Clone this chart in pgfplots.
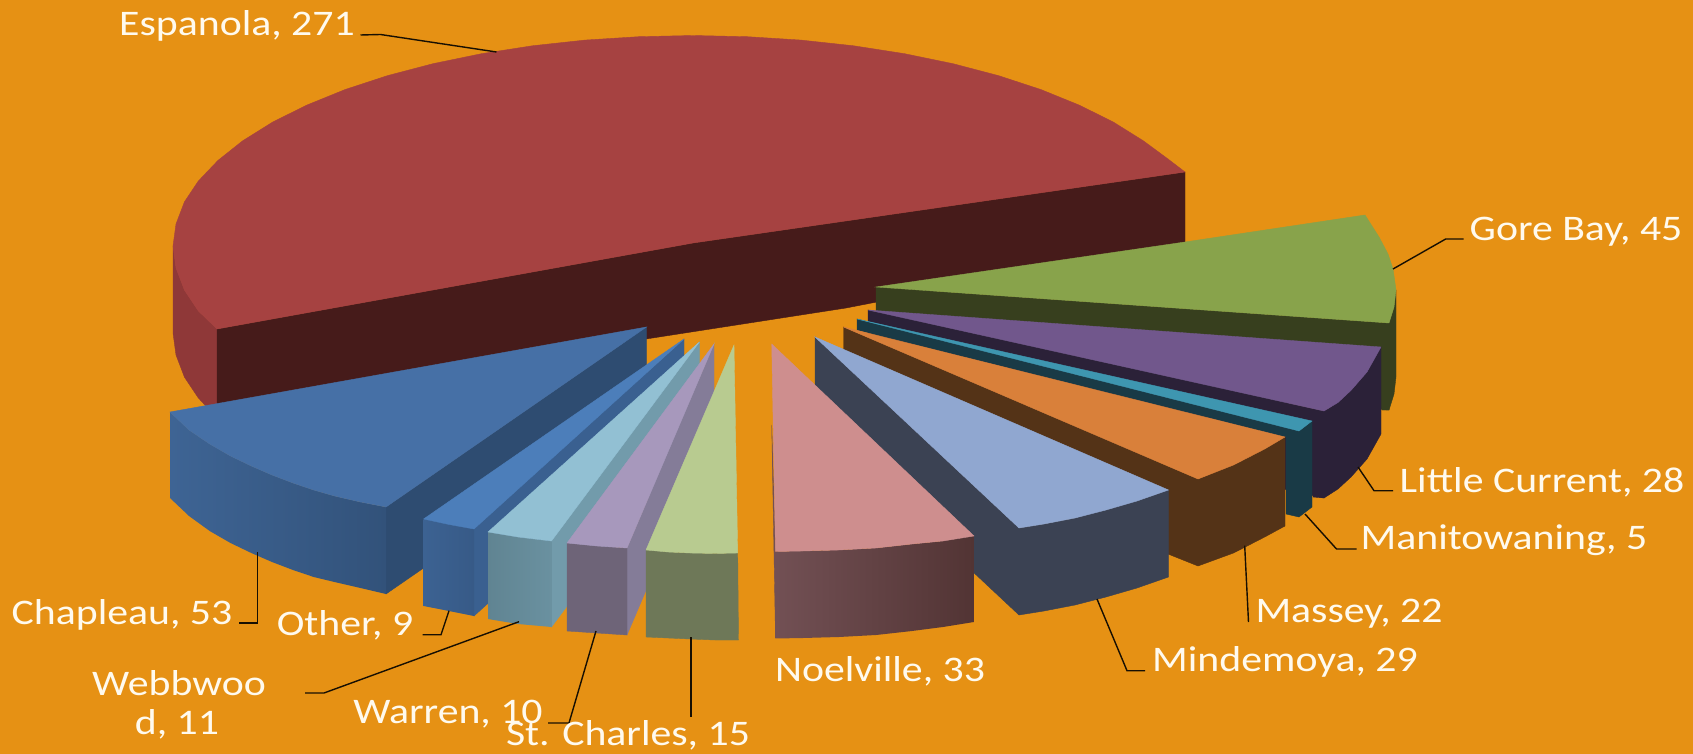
\documentclass[border=0pt]{standalone}
\usepackage{graphicx}
\usepackage{fontspec}
\setmainfont{Carlito}
\usepackage{pgfplots}
\pgfplotsset{compat=1.18}

\definecolor{bg}{RGB}{230,145,20}
\definecolor{espTop}{RGB}{166,66,65}
\definecolor{espDark}{RGB}{70,27,26}
\definecolor{espSide}{RGB}{143,56,56}
\definecolor{goreTop}{RGB}{136,163,75}
\definecolor{goreDark}{RGB}{55,63,30}
\definecolor{litTop}{RGB}{113,87,140}
\definecolor{litDark}{RGB}{43,33,56}
\definecolor{manTop}{RGB}{62,150,176}
\definecolor{manDark}{RGB}{25,58,70}
\definecolor{masTop}{RGB}{217,128,58}
\definecolor{masDark}{RGB}{84,51,23}
\definecolor{minTop}{RGB}{144,167,208}
\definecolor{minDark}{RGB}{59,66,83}
\definecolor{noeTop}{RGB}{206,142,142}
\definecolor{noeA}{RGB}{114,80,84}
\definecolor{noeB}{RGB}{82,52,52}
\definecolor{chaTop}{RGB}{70,112,166}
\definecolor{chaDark}{RGB}{46,76,113}
\definecolor{chaA}{RGB}{62,100,148}
\definecolor{chaB}{RGB}{50,82,122}
\definecolor{othTop}{RGB}{76,126,186}
\definecolor{othDark}{RGB}{58,96,144}
\definecolor{othA}{RGB}{60,98,146}
\definecolor{othB}{RGB}{55,90,135}
\definecolor{webTop}{RGB}{146,192,211}
\definecolor{webDark}{RGB}{114,155,171}
\definecolor{webA}{RGB}{96,132,146}
\definecolor{webB}{RGB}{106,145,160}
\definecolor{warTop}{RGB}{167,152,188}
\definecolor{warDark}{RGB}{132,124,152}
\definecolor{warSide}{RGB}{110,100,120}
\definecolor{stcTop}{RGB}{184,203,144}
\definecolor{stcSide}{RGB}{110,120,88}
\definecolor{lbl}{RGB}{255,250,238}

\pgfplotsset{
  face/.style={fill=#1,draw=#1,line width=0.2pt},
  grad/.style 2 args={left color=#1,right color=#2,draw=none},
  leader/.style={color=black!90!bg,line width=0.7pt},
}
% labels in the reference are stretched sideways along with the picture
\newcommand{\lab}[3]{\node[anchor=center,inner sep=0pt,text=lbl,font=\fontsize{18}{21}\selectfont] at (axis cs:#1,#2) {\scalebox{1.16}[1]{#3}};}

\begin{document}
\begin{tikzpicture}
\begin{axis}[
    scale only axis,
    width=846.5pt,
    height=377pt,
    xmin=0, xmax=1693,
    ymin=0, ymax=754,
    y dir=reverse,
    ticks=none,
    axis line style={draw=none},
    axis background/.style={fill=bg},
]

% Espanola
\addplot[face=espSide] coordinates {(173,246)(176,268)(184.4,290)(198.4,311)(217,329)(217,418)(198.4,398)(184.4,377)(176,355)(173,333)} --cycle;
\addplot[face=espDark] coordinates {(217,329)(693,243)(1185,172)(1185,242)(846,308)(646,339)(217,404)} --cycle;
\addplot[face=espTop] coordinates {(217,329)(198.4,311)(184.4,290)(176,268)(173,246)(176,224)(184.4,202)(198.4,181)(218,160.4)(242.7,140.8)(272.3,122.3)(306.6,105.2)(345,89.6)(387.3,75.7)(433,63.7)(481.5,53.7)(532.3,45.8)(584.9,40.1)(638.7,36.7)(693,35.5)(747.3,36.7)(801.1,40.1)(853.7,45.8)(904.5,53.7)(953,63.7)(998.7,75.7)(1041,89.6)(1079.4,105.2)(1113.7,122.3)(1143.3,140.8)(1168,159)(1185,172)(693,243)} --cycle;

% Gore Bay
\addplot[face=goreDark] coordinates {(876,287)(1389,323)(1389,410)(876,374)} --cycle;
\addplot[face=goreDark] coordinates {(1396,290)(1394,307)(1389,323)(1382,410)(1389,410)(1394,394)(1396,377)} --cycle;
\addplot[face=goreTop] coordinates {(876,287)(1185,242)(1365,215)(1379,237)(1388,254)(1393,269)(1396,290)(1394,307)(1389,323)} --cycle;

% Little Current
\addplot[face=litDark] coordinates {(868,310)(1324,411)(1324,498)(868,397)} --cycle;
\addplot[face=litDark] coordinates {(1324,411)(1338,402.5)(1351,390.4)(1367,372)(1381,347)(1381,434)(1367,459)(1351,477)(1338,489)(1324,498)(1313,497)} --cycle;
\addplot[face=litTop] coordinates {(868,310)(1381,347)(1367,372)(1351,390.4)(1338,402.5)(1324,411)} --cycle;

% Manitowaning
\addplot[face=manDark] coordinates {(857,319)(1299,431)(1312,421)(1312,507)(1299,517)(1286,514)(1286,437)(857,330)} --cycle;
\addplot[face=manTop] coordinates {(857,319)(1312,421)(1299,431)} --cycle;

% Massey
\addplot[face=masDark] coordinates {(843.5,327)(1198,479)(1233.5,465)(1264.7,449)(1285,437)(1285,526)(1264.7,537)(1233.5,553)(1198,566)(1168,554)(843.5,414)} --cycle;
\addplot[face=masTop] coordinates {(843.5,327)(1285,437)(1264.7,449)(1233.5,465)(1198,479)} --cycle;

% Mindemoya
\addplot[face=minDark] coordinates {(815,337)(1019,528)(1044,524)(1075,518)(1106,510)(1137,501)(1168.5,490)(1168.5,577)(1137,588)(1106,597)(1075,605)(1044,611)(1019,615)(815,424)} --cycle;
\addplot[face=minTop] coordinates {(815,337)(1168.5,490)(1137,501)(1106,510)(1075,518)(1044,524)(1019,528)} --cycle;

% Noelville
\addplot[face=noeA] coordinates {(771.7,425)(775.5,638)(775.5,551)} --cycle;
\addplot[grad={noeA}{noeB}] coordinates {(775.5,551.5)(803,551)(839,550)(876,548)(912,544)(943,541)(974,536)(974,622)(943,627)(912,631)(876,635)(839,637)(803,638)(775.5,638.5)} --cycle;
\addplot[face=noeTop] coordinates {(771.7,344)(974,536)(943,541)(912,544)(876,548)(839,550)(803,551)(775.5,551.5)} --cycle;

% Chapleau
\addplot[face=chaDark] coordinates {(646.5,327)(386,507)(386,594)(646.5,414)} --cycle;
\addplot[grad={chaA}{chaB}] coordinates {(170,412)(189,430)(209.7,444)(230.5,456)(251.3,466)(272,475)(293,483)(313.7,490)(334.5,496)(360.5,502)(386,507)(386,594)(360.5,588)(334.5,582)(313.7,577)(293,570)(272,562)(251.3,553)(230.5,543)(209.7,531)(189,516)(170,498)} --cycle;
\addplot[face=chaTop] coordinates {(646.5,327)(170,412)(189,430)(209.7,444)(230.5,456)(251.3,466)(272,475)(293,483)(313.7,490)(334.5,496)(360.5,502)(386,507)} --cycle;

% Other
\addplot[face=othDark] coordinates {(684,339)(474,529)(474,616)(684,426)} --cycle;
\addplot[grad={othA}{othB}] coordinates {(423.6,519)(449,524.5)(474,529)(474,616)(449,611)(423.6,606)} --cycle;
\addplot[face=othTop] coordinates {(684,339)(423.6,519)(449,524.5)(474,529)} --cycle;

% Webbwood
\addplot[face=webDark] coordinates {(699.4,342)(551.5,541)(551.5,627)(699.4,428)} --cycle;
\addplot[grad={webA}{webB}] coordinates {(488,532)(518,537)(551.5,541)(551.5,627)(518,624)(488,619)} --cycle;
\addplot[face=webTop] coordinates {(699.4,342)(488,532)(518,537)(551.5,541)} --cycle;

% Warren
\addplot[face=warDark] coordinates {(714,344)(627,548)(627,635)(714,431)} --cycle;
\addplot[face=warSide] coordinates {(567,543)(597,546)(627,548)(627,635)(597,633)(567,631)} --cycle;
\addplot[face=warTop] coordinates {(714,344)(567,543)(597,546)(627,548)} --cycle;

% St. Charles
\addplot[face=stcSide] coordinates {(646,550)(668,552)(690,553)(715,553.5)(737.7,553)(738.5,640)(715,640)(690,639)(668,638)(646,637)} --cycle;
\addplot[face=stcTop] coordinates {(734,345)(646,550)(668,552)(690,553)(715,553.5)(737.7,553)} --cycle;

% leader lines
\addplot[leader] coordinates {(360.5,35)(380.5,34.5)(496.5,52)};
\addplot[leader] coordinates {(1393,269)(1445.7,239)(1463.5,239)};
\addplot[leader] coordinates {(1358,467)(1374,490.7)(1393,490.7)};
\addplot[leader] coordinates {(1305,514)(1336.5,549)(1356.5,549)};
\addplot[leader] coordinates {(1244.7,545.7)(1248.5,622)};
\addplot[leader] coordinates {(1097,599)(1127,670.7)(1145,670.7)};
\addplot[leader] coordinates {(691,637)(691,717)};
\addplot[leader] coordinates {(596,631)(569,723)(548,723)};
\addplot[leader] coordinates {(519,621.7)(324,693)(305,693)};
\addplot[leader] coordinates {(449,610.7)(441,634.7)(422.6,634.7)};
\addplot[leader] coordinates {(257.4,552)(257.4,623)(239,623)};

% data labels
\lab{237}{26}{Espanola, 271}
\lab{1576}{232}{Gore Bay, 45}
\lab{1542}{482}{Little Current, 28}
\lab{1504}{540}{Manitowaning, 5}
\lab{1349}{614}{Massey, 22}
\lab{1285}{662}{Mindemoya, 29}
\lab{880}{671}{Noelville, 33}
\lab{628}{735}{St. Charles, 15}
\lab{448}{714}{Warren, 10}
\lab{179}{683}{Webbwoo}
\lab{177}{724}{d, 11}
\lab{345}{625}{Other, 9}
\lab{122}{615}{Chapleau, 53}

\end{axis}
\end{tikzpicture}
\end{document}
